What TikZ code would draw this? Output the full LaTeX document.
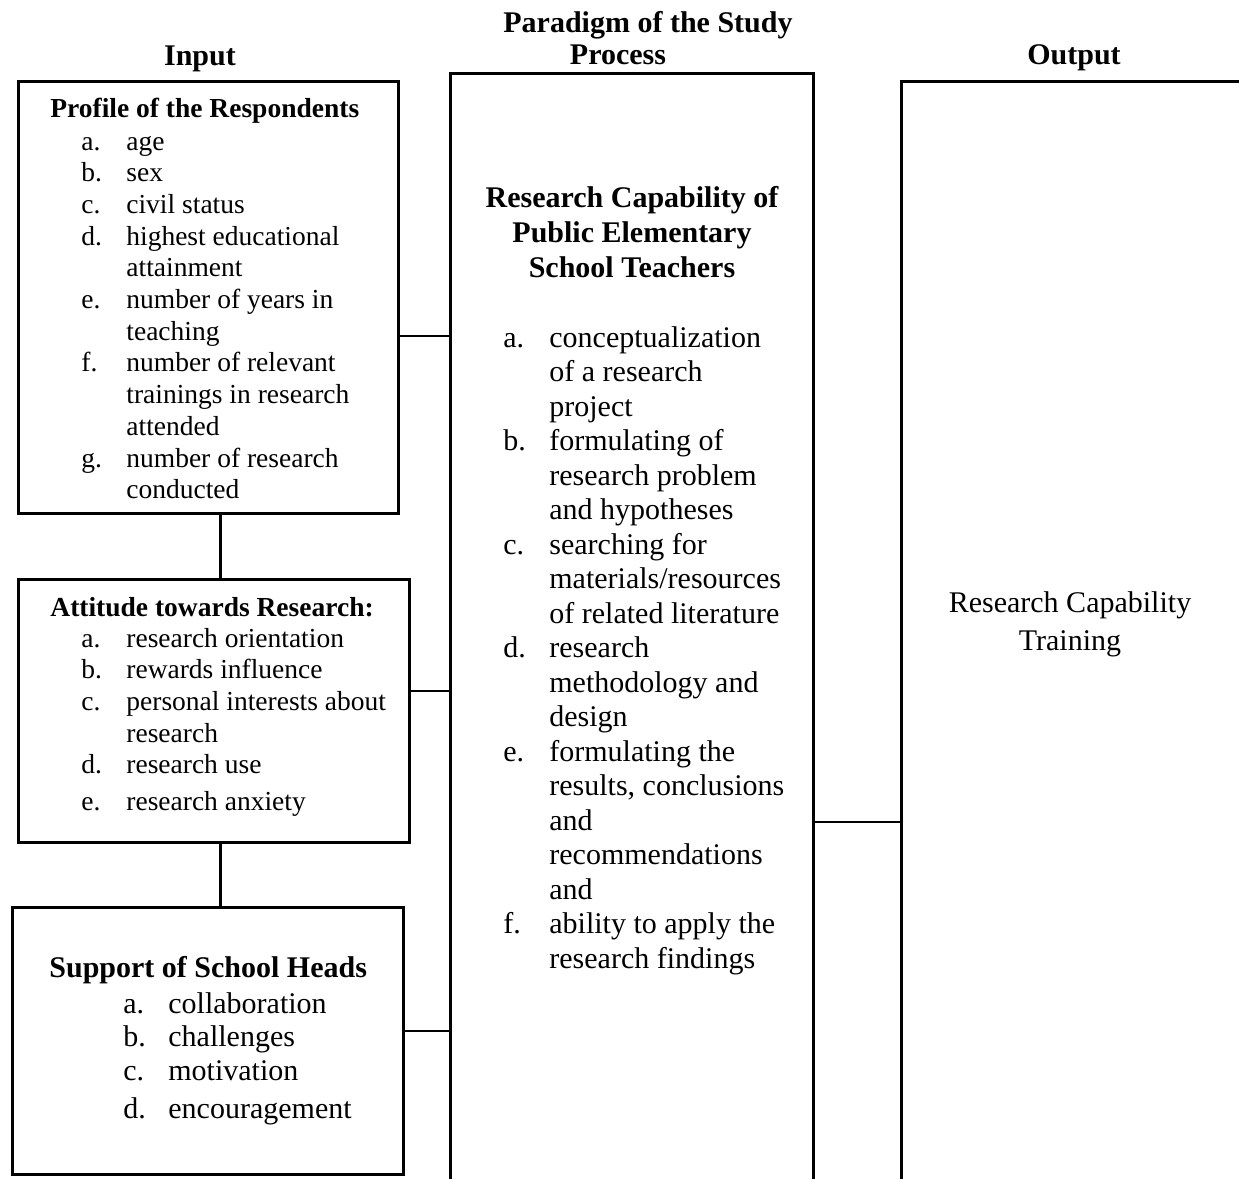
\documentclass[tikz,border=0pt]{standalone}
\usepackage{fontspec}
\setmainfont{Liberation Serif}
\usetikzlibrary{positioning}
\tikzset{
    every picture/.style={x=0.5pt,y=-0.5pt},
    frame/.style={draw,line width=1.5pt,inner sep=0pt,anchor=north west},
    link/.style={line width=0.9pt},
    spine/.style={line width=1.5pt},
}
\newcommand{\inputsize}{\fontsize{13.75}{15.85}\selectfont}
\newcommand{\procsize}{\fontsize{15}{17.25}\selectfont}

\begin{document}
\begin{tikzpicture}[
    head/.style={font=\bfseries\fontsize{15}{17}\selectfont,inner sep=0pt,anchor=base},
    title/.style={inner sep=0pt,anchor=base west},
    items/.style={inner sep=0pt,anchor=base west},
    ]
    \clip (0,0) rectangle (1239,1179);
    % headings
    \node[head] (inlbl) at (200,65) {Input};
    \node[head] (paradigm) at (648,32) {Paradigm of the Study};
    \node[head] (proclbl) at (618,64) {Process};
    \node[head] (outlbl) at (1074,64) {Output};
    % boxes
    \node[frame,minimum width=190pt,minimum height=216pt] (profile) at (17,80) {};
    \node[frame,minimum width=195.5pt,minimum height=131.5pt] (attitude) at (17,578) {};
    \node[frame,minimum width=195.5pt,minimum height=133.5pt] (support) at (11,906) {};
    \node[frame,minimum width=181.5pt,minimum height=600pt] (process) at (449,72) {};
    \node[frame,minimum width=200pt,minimum height=600pt] (output) at (900,80) {};
    % input texts
    \node[title,font=\bfseries\inputsize] (profhd) at (50,117) {Profile of the Respondents};
    \node[items,font=\inputsize] (proflist) at (81,150) {\begin{tabular}[t]{@{}p{22.5pt}@{}l@{}}
        a. & age\\
        b. & sex\\
        c. & civil status\\
        d. & highest educational\\
           & attainment\\
        e. & number of years in\\
           & teaching\\
        f. & number of relevant\\
           & trainings in research\\
           & attended\\
        g. & number of research\\
           & conducted
    \end{tabular}};
    \node[title,font=\bfseries\inputsize] (atthd) at (50,616) {Attitude towards Research:};
    \node[items,font=\inputsize] (attlist) at (81,647) {\begin{tabular}[t]{@{}p{22.5pt}@{}l@{}}
        a. & research orientation\\
        b. & rewards influence\\
        c. & personal interests about\\
           & research\\
        d. & research use\\[2.5pt]
        e. & research anxiety
    \end{tabular}};
    \node[title,font=\bfseries\procsize] (suphd) at (49,977) {Support of School Heads};
    \node[items,font=\fontsize{15}{16.75}\selectfont] (suplist) at (123,1013) {\begin{tabular}[t]{@{}p{22.5pt}@{}l@{}}
        a. & collaboration\\
        b. & challenges\\
        c. & motivation\\[2.5pt]
        d. & encouragement
    \end{tabular}};
    % process texts
    \node[inner sep=0pt,anchor=base,font=\bfseries\fontsize{15}{17.5}\selectfont] (prochd) at (632,207)
        {\begin{tabular}[t]{@{}c@{}}
        Research Capability of\\
        Public Elementary\\
        School Teachers
    \end{tabular}};
    \node[items,font=\procsize] (proclist) at (503,347) {\begin{tabular}[t]{@{}p{23pt}@{}l@{}}
        a. & conceptualization\\
           & of a research\\
           & project\\
        b. & formulating of\\
           & research problem\\
           & and hypotheses\\
        c. & searching for\\
           & materials/resources\\
           & of related literature\\
        d. & research\\
           & methodology and\\
           & design\\
        e. & formulating the\\
           & results, conclusions\\
           & and\\
           & recommendations\\
           & and\\
        f. & ability to apply the\\
           & research findings
    \end{tabular}};
    % output text
    \node[inner sep=0pt,anchor=base,font=\fontsize{15}{19}\selectfont] (outtxt) at (1070,612)
        {\begin{tabular}[t]{@{}c@{}}
        Research Capability\\
        Training
    \end{tabular}};
    % connectors
    \coordinate (spinex) at (220,0);
    \draw[spine] (profile.south -| spinex) -- (attitude.north -| spinex);
    \draw[spine] (attitude.south -| spinex) -- (support.north -| spinex);
    \coordinate (tie1) at (0,336);
    \coordinate (tie2) at (0,691);
    \coordinate (tie3) at (0,1031);
    \coordinate (tie4) at (0,822);
    \draw[link] (profile.east |- tie1) -- (process.west |- tie1);
    \draw[link] (attitude.east |- tie2) -- (process.west |- tie2);
    \draw[link] (support.east |- tie3) -- (process.west |- tie3);
    \draw[link] (process.east |- tie4) -- (output.west |- tie4);
\end{tikzpicture}
\end{document}
